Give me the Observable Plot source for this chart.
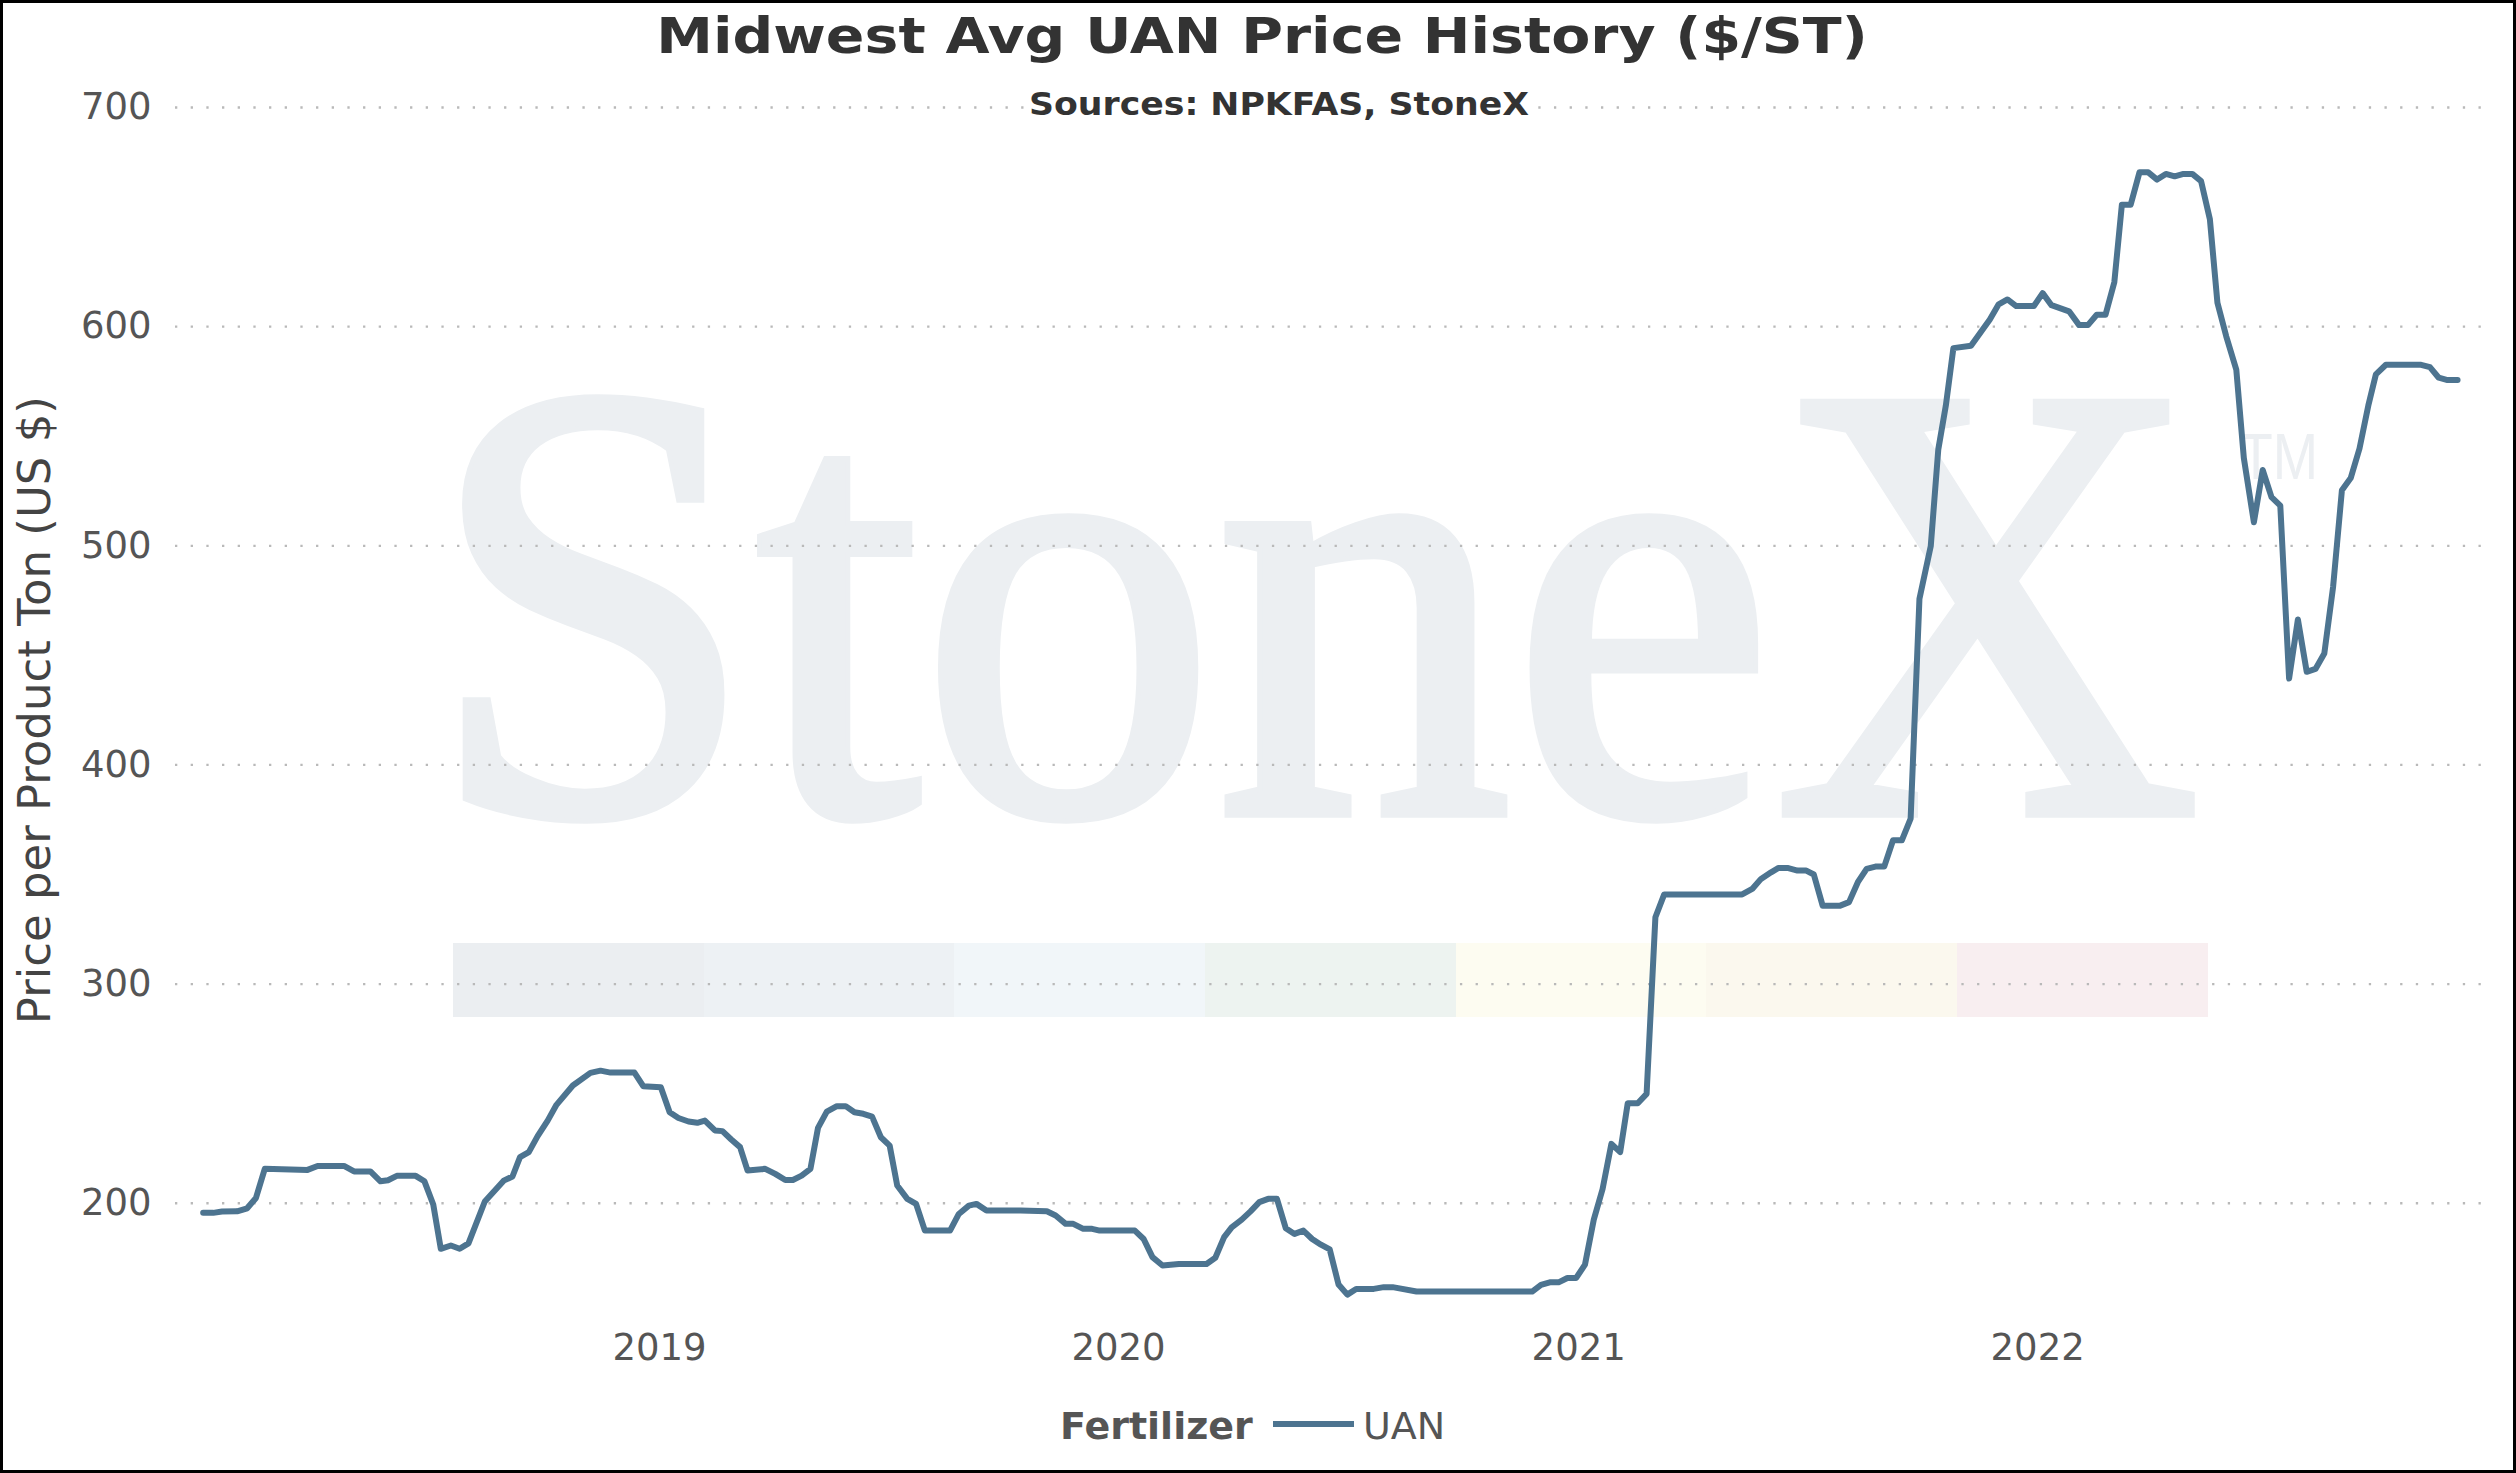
<!DOCTYPE html>
<html>
<head>
<meta charset="utf-8">
<script src="https://cdn.jsdelivr.net/npm/d3@7"></script>
<script src="https://cdn.jsdelivr.net/npm/@observablehq/plot@0.6"></script>
<style>
  html, body { margin: 0; padding: 0; background: #fff; }
  #wrap { position: relative; width: 2516px; height: 1473px; overflow: hidden; background: #fff;
          font-family: "DejaVu Sans", Verdana, sans-serif; }
  #band { position: absolute; left: 453px; top: 943px; height: 74px; display: flex; }
  #band div { width: 250.7px; height: 74px; }
  #chart { position: absolute; left: 0; top: 0; }
  #title { position: absolute; top: 10.7px; left: 1262px; font-weight: bold; font-size: 50px; line-height: 50px;
           color: #333; white-space: nowrap; transform-origin: 50% 50%; }
  #sub { position: absolute; top: 87.5px; left: 1279px; font-weight: bold; font-size: 32px; line-height: 32px;
         color: #333; white-space: nowrap; background: #fff; padding: 0 3px; transform-origin: 50% 50%; }
  .leg { position: absolute; top: 1407px; font-size: 38px; line-height: 38px; color: #555; white-space: nowrap; }
  #legSw { position: absolute; left: 1272.5px; top: 1420.7px; width: 81.5px; height: 6px; }
  #frame { position: absolute; left: 0; top: 0; width: 2516px; height: 1473px; box-sizing: border-box;
           border: 3px solid #000; pointer-events: none; }
</style>
</head>
<body>
<div id="wrap">
  <div id="band"></div>
  <div id="chart"></div>
  <div id="title"><span></span></div>
  <div id="sub"><span></span></div>
  <div class="leg" id="legName" style="left:1060px;font-weight:bold;"></div>
  <div id="legSw"></div>
  <div class="leg" id="legVal" style="left:1363px;"></div>
  <div id="frame"></div>
</div>
<script>
// ---- data ----
const seriesName = "UAN";
const dates = [
  "2018-01-03","2018-01-11","2018-01-18","2018-01-30","2018-02-07","2018-02-14","2018-02-21","2018-03-27",
  "2018-04-04","2018-04-25","2018-05-03","2018-05-16","2018-05-24","2018-05-30","2018-06-06","2018-06-21",
  "2018-06-28","2018-07-05","2018-07-11","2018-07-19","2018-07-26","2018-08-02","2018-08-15","2018-08-30",
  "2018-09-06","2018-09-12","2018-09-19","2018-09-26","2018-10-04","2018-10-11","2018-10-24","2018-11-07",
  "2018-11-15","2018-11-23","2018-12-12","2018-12-19",
  "2019-01-02","2019-01-09","2019-01-16","2019-01-24","2019-01-31","2019-02-06","2019-02-14","2019-02-20",
  "2019-02-27","2019-03-06","2019-03-12","2019-03-26","2019-04-03","2019-04-11","2019-04-17","2019-04-24",
  "2019-05-01","2019-05-07","2019-05-14","2019-05-22","2019-05-29","2019-06-05","2019-06-12","2019-06-19",
  "2019-06-26","2019-07-03","2019-07-09","2019-07-17","2019-07-24","2019-07-31","2019-08-20","2019-08-27",
  "2019-09-04","2019-09-10","2019-09-18","2019-10-15","2019-11-05","2019-11-12","2019-11-20","2019-11-26",
  "2019-12-04","2019-12-11","2019-12-17",
  "2020-01-14","2020-01-21","2020-01-28","2020-02-05","2020-02-18","2020-03-11","2020-03-18","2020-03-25",
  "2020-03-31","2020-04-08","2020-04-15","2020-04-22","2020-04-29","2020-05-06","2020-05-13","2020-05-20",
  "2020-05-27","2020-06-03","2020-06-10","2020-06-17","2020-06-24","2020-07-01","2020-07-08","2020-07-22",
  "2020-07-30","2020-08-06","2020-08-25","2020-11-25","2020-12-02","2020-12-09","2020-12-16","2020-12-23",
  "2020-12-30",
  "2021-01-06","2021-01-13","2021-01-20","2021-01-27","2021-02-03","2021-02-09","2021-02-17","2021-02-24",
  "2021-03-03","2021-03-10","2021-05-11","2021-05-19","2021-05-26","2021-06-03","2021-06-09","2021-06-16",
  "2021-06-24","2021-07-01","2021-07-07","2021-07-14","2021-07-28","2021-08-04","2021-08-11","2021-08-18",
  "2021-08-25","2021-09-01","2021-09-08","2021-09-15","2021-09-22","2021-09-29","2021-10-08","2021-10-14",
  "2021-10-20","2021-10-26","2021-11-09","2021-11-24","2021-12-01","2021-12-08","2021-12-15","2021-12-29",
  "2022-01-05","2022-01-12","2022-01-26","2022-02-03","2022-02-10","2022-02-17","2022-02-24","2022-03-03",
  "2022-03-09","2022-03-16","2022-03-23","2022-03-30","2022-04-06","2022-04-13","2022-04-20","2022-04-27",
  "2022-05-04","2022-05-11","2022-05-18","2022-05-24","2022-05-31","2022-06-08","2022-06-14","2022-06-22",
  "2022-06-29","2022-07-06","2022-07-13","2022-07-20","2022-07-27","2022-08-03","2022-08-10","2022-08-17",
  "2022-08-24","2022-08-31","2022-09-07","2022-09-14","2022-09-21","2022-09-27","2022-10-05","2022-11-02",
  "2022-11-09","2022-11-16","2022-11-23","2022-12-01"
];
const prices = [
  195.6,195.6,196.2,196.3,197.7,202.4,215.7,215.2,
  217,217,214.5,214.5,210,210.5,212.5,212.5,
  210,199.4,179.2,180.7,179.2,181.7,200.8,210.3,
  212.2,221,223.3,230.6,237.7,244.9,253.7,259.5,
  260.5,259.6,259.6,253.4,
  252.9,241.5,238.9,237.3,236.7,237.7,233.2,232.9,
  229.1,225.6,214.9,215.7,213.4,210.6,210.6,212.6,
  215.7,234.4,241.8,244.3,244.3,241.5,240.8,239.5,
  230.1,226.3,208.1,202,199.7,187.5,187.5,195.1,
  198.9,199.7,196.7,196.7,196.3,194.4,190.6,190.6,
  188.3,188.3,187.5,
  187.5,183.7,175.4,171.6,172.3,172.3,175.1,184.5,
  189,192.5,196.3,200.5,202,202,188.6,186,
  187.5,183.7,181.1,178.9,162.9,158.3,160.9,160.9,
  161.7,161.7,159.7,159.7,162.7,163.9,163.9,165.9,
  165.9,
  172,192.5,206.5,227.1,223.3,245.6,245.6,249.9,
  330.5,340.9,340.9,343.4,348,351,353,353,
  351.8,351.8,350,335.8,335.8,337.4,346.5,352.6,
  353.6,353.6,365.6,365.6,375.5,475.8,499.8,544,
  564,590.2,591.3,603.3,610.2,612.4,609.4,609.4,
  615.3,609.8,607,600.7,600.7,605.4,605.4,620.3,
  655.6,655.6,670.4,670.4,667.1,669.7,668.6,669.7,
  669.7,666.4,649,610.9,595.6,580.4,540.1,510.7,
  534.6,522.2,518.3,439.4,466.4,442.5,443.8,450.8,
  481.3,525.3,530.9,544.4,564,578.2,582.6,582.6,
  581.5,576.7,575.6,575.6
];
const yTicks = [200, 300, 400, 500, 600, 700];
const xTickYears = [2019, 2020, 2021, 2022];
const xTickLabels = ["2019", "2020", "2021", "2022"];
const titleText = "Midwest Avg UAN Price History ($/ST)";
const subtitleText = "Sources: NPKFAS, StoneX";
const yLabel = "Price per Product Ton (US $)";
const legendTitle = "Fertilizer";

// ---- styles ----
const lineColor = "#4d7490";
const bandColors = ["#ebeef1","#edf1f4","#f1f6f9","#edf3f0","#fdfcf1","#fbf8ee","#f8eef0"];
const wmColor = "#eceff2";

document.querySelector("#title span").textContent = titleText;
document.querySelector("#sub span").textContent = subtitleText;
document.getElementById("legName").textContent = legendTitle;
document.getElementById("legVal").textContent = seriesName;
document.getElementById("legSw").style.background = lineColor;
const band = document.getElementById("band");
bandColors.forEach(c => { const d = document.createElement("div"); d.style.background = c; band.appendChild(d); });

const data = dates.map((d, i) => ({date: new Date(d + "T00:00:00Z"), price: prices[i], series: seriesName}));
const xTicks = xTickYears.map(y => new Date(Date.UTC(y, 0, 1)));

const chart = Plot.plot({
  width: 2516,
  height: 1473,
  marginLeft: 175,
  marginRight: 30,
  marginTop: 107,
  marginBottom: 160.7,
  style: {background: "transparent", fontFamily: "DejaVu Sans, Verdana, sans-serif", overflow: "visible", maxWidth: "none"},
  x: {type: "utc", domain: [new Date("2017-12-12T00:00:00Z"), new Date("2022-12-24T00:00:00Z")]},
  y: {domain: [150, 700]},
  marks: [
    Plot.text(["StoneX"], {frameAnchor: "top-left", dx: 427 - 175, dy: 812 - 107, textAnchor: "start", lineAnchor: "bottom",
      fontSize: 600, fontFamily: "Liberation Serif, Times New Roman, serif", fill: wmColor,
      stroke: wmColor, strokeWidth: 10, strokeLinejoin: "miter"}),
    Plot.text(["TM"], {frameAnchor: "top-left", dx: 2239 - 175, dy: 478 - 107, textAnchor: "start", lineAnchor: "bottom",
      fontSize: 64, fontFamily: "Liberation Sans, Arial, sans-serif", fill: wmColor}),
    Plot.ruleY(yTicks, {stroke: "#b9b9b9", strokeWidth: 2.3, strokeDasharray: "2.3 13.37"}),
    Plot.axisY(yTicks, {tickSize: 0, tickPadding: 24, fontSize: 37, color: "#555", label: null, tickFormat: d => String(d)}),
    Plot.axisX(xTicks, {tickSize: 0, tickPadding: 21, fontSize: 37, color: "#555", label: null,
      tickFormat: d => xTickLabels[xTickYears.indexOf(d.getUTCFullYear())]}),
    Plot.line(data, {x: "date", y: "price", z: "series", stroke: lineColor, strokeWidth: 6,
      strokeLinejoin: "round", strokeLinecap: "round"}),
    Plot.text([yLabel], {frameAnchor: "left", rotate: -90, dx: 49.5 - 175, textAnchor: "middle", lineAnchor: "bottom",
      fontSize: 45, fill: "#444"})
  ]
});
document.getElementById("chart").appendChild(chart);

// give the logo watermark its proportions (scale about each text's own anchor)
function rescale(el, sx, sy) {
  const tr = el.getAttribute("transform");
  if (tr) {
    el.setAttribute("transform", tr + ` scale(${sx},${sy})`);
  } else {
    const x = +(el.getAttribute("x") || 0), y = +(el.getAttribute("y") || 0);
    el.setAttribute("x", 0); el.setAttribute("y", 0);
    el.setAttribute("transform", `translate(${x},${y}) scale(${sx},${sy})`);
  }
}
d3.select(chart).selectAll("text").each(function () {
  if (this.textContent === "StoneX") rescale(this, 0.985, 1.04);
  if (this.textContent === "TM") rescale(this, 0.85, 1);
});

function fit() {
  const t = document.getElementById("title");
  const ts = t.querySelector("span");
  const s1 = 1212 / ts.offsetWidth;
  t.style.transform = `translateX(-50%) scaleX(${s1})`;
  const u = document.getElementById("sub");
  const us = u.querySelector("span");
  const s2 = 500 / us.offsetWidth;
  u.style.transform = `translateX(-50%) scaleX(${s2})`;
}
fit();
if (document.fonts && document.fonts.ready) document.fonts.ready.then(fit);
</script>
</body>
</html>
